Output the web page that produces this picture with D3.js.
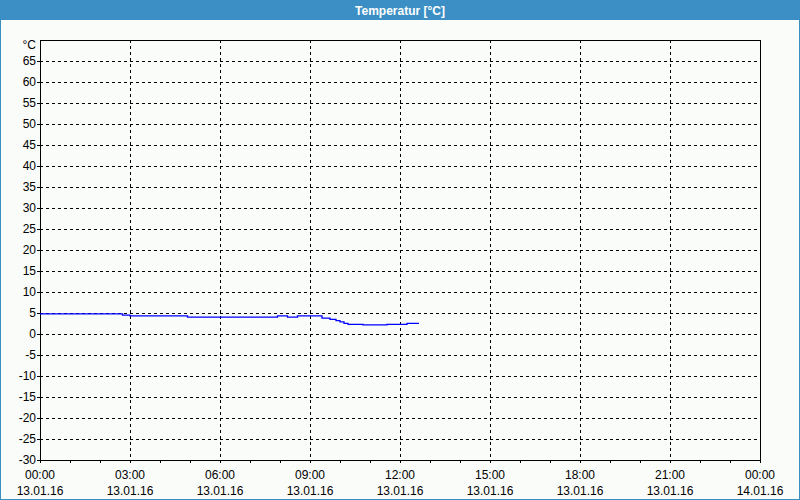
<!DOCTYPE html>
<html><head><meta charset="utf-8">
<script src="https://cdn.jsdelivr.net/npm/d3@7"></script>
<style>
html,body{margin:0;padding:0;background:#fafcfa;}
svg{display:block;font-family:"Liberation Sans",Arial,sans-serif;}
</style></head>
<body><svg id="c" width="800" height="500"></svg>
<script>
const title = "Temperatur [°C]";
const unitLabel = "°C";
const times = ["00:00","02:45","03:00","04:55","07:55","08:15","08:35","09:24","09:40","09:52","10:00","10:08","10:16","10:46","11:34","12:14","12:38"];
const temps = [4.8,4.5,4.3,4.0,4.3,4.0,4.3,3.8,3.5,3.2,2.9,2.55,2.3,2.15,2.3,2.55,2.55];
const yTicks = [65,60,55,50,45,40,35,30,25,20,15,10,5,0,-5,-10,-15,-20,-25,-30];
const xTickLabels = [["00:00","13.01.16"],["03:00","13.01.16"],["06:00","13.01.16"],["09:00","13.01.16"],["12:00","13.01.16"],["15:00","13.01.16"],["18:00","13.01.16"],["21:00","13.01.16"],["00:00","14.01.16"]];

const svg = d3.select("#c");
const W=800,H=500;
const m={l:40,r:760,t:40,b:460};
const parse = s => { const [h,mm]=s.split(":").map(Number); return h+mm/60; };
const x = d3.scaleLinear().domain([0,24]).range([m.l,m.r]);
const y = d3.scaleLinear().domain([-30,70]).range([m.b,m.t]);

// window frame
svg.append("rect").attr("x",0.5).attr("y",0.5).attr("width",W-1).attr("height",H-1)
  .attr("fill","#fafcfa").attr("stroke","#3b8fc5");
svg.append("rect").attr("x",0).attr("y",0).attr("width",W).attr("height",20).attr("fill","#3b8fc5");
svg.append("text").attr("x",W/2).attr("y",14.5).attr("text-anchor","middle")
  .attr("fill","#fff").attr("font-weight","bold").attr("font-size",12).text(title);

// grid
const g = svg.append("g").attr("shape-rendering","crispEdges");
g.selectAll(".hg").data(yTicks.filter(v=>v>-30)).enter().append("line")
  .attr("x1",m.l).attr("x2",m.r).attr("y1",d=>Math.round(y(d))+0.5).attr("y2",d=>Math.round(y(d))+0.5)
  .attr("stroke","#000").attr("stroke-dasharray","3,3");
const xMajor = d3.range(3,24,3);
g.selectAll(".vg").data(xMajor).enter().append("line")
  .attr("y1",m.t).attr("y2",m.b).attr("x1",d=>Math.round(x(d))+0.5).attr("x2",d=>Math.round(x(d))+0.5)
  .attr("stroke","#000").attr("stroke-dasharray","3,3");

// ticks
g.selectAll(".tk").data(d3.range(0,25,1)).enter().append("line")
  .attr("x1",d=>Math.round(x(d))+0.5).attr("x2",d=>Math.round(x(d))+0.5)
  .attr("y1",m.b).attr("y2",m.b+3).attr("stroke","#000");
g.selectAll(".ytk").data(yTicks).enter().append("line")
  .attr("x1",m.l-3).attr("x2",m.l).attr("y1",d=>Math.round(y(d))+0.5).attr("y2",d=>Math.round(y(d))+0.5)
  .attr("stroke","#000");

// frame
g.append("rect").attr("x",m.l+0.5).attr("y",m.t+0.5).attr("width",m.r-m.l).attr("height",m.b-m.t)
  .attr("fill","none").attr("stroke","#000");

// y labels
svg.selectAll(".yl").data(yTicks).enter().append("text")
  .attr("x",m.l-4).attr("y",d=>y(d)+4).attr("text-anchor","end").attr("font-size",12).attr("fill","#000")
  .text(d=>d);
svg.append("text").attr("x",m.l-4).attr("y",y(70)+9).attr("text-anchor","end").attr("font-size",12).text(unitLabel);

// x labels
xTickLabels.forEach((lab,i)=>{
  const xx = x(i*3);
  svg.append("text").attr("x",xx).attr("y",479).attr("text-anchor","middle").attr("font-size",12).text(lab[0]);
  svg.append("text").attr("x",xx).attr("y",495).attr("text-anchor","middle").attr("font-size",12).text(lab[1]);
});

// data line
const data = times.map((t,i)=>({t:parse(t),v:temps[i]}));
const line = d3.line().x(d=>x(d.t)).y(d=>y(d.v)).curve(d3.curveStepAfter);
svg.append("path").datum(data).attr("d",line).attr("fill","none").attr("stroke","#0000ff").attr("stroke-width",1.3);
</script></body></html>
